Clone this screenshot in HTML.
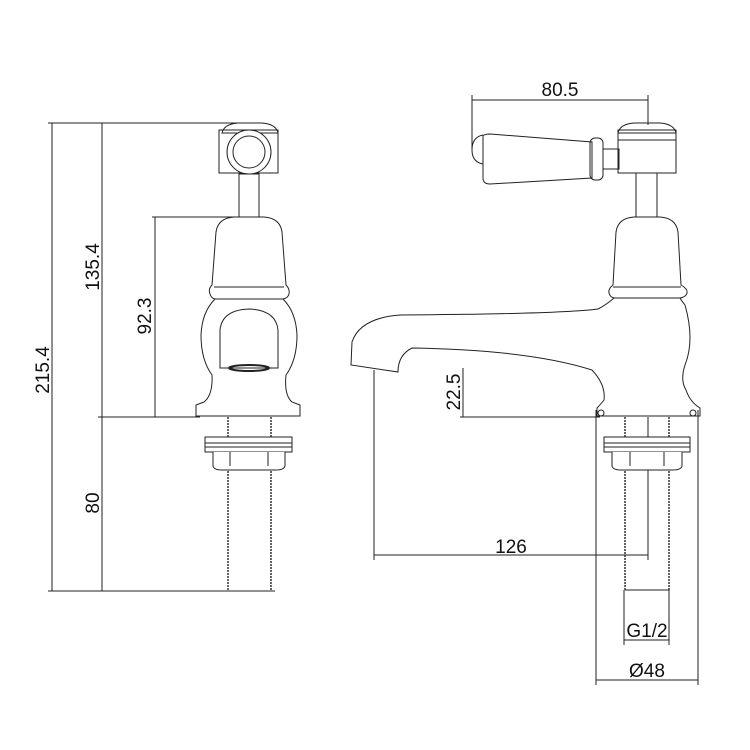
<!DOCTYPE html>
<html><head><style>body{margin:0;background:#fff}svg{display:block}text{font-family:"Liberation Sans",Arial,sans-serif;font-size:19px;fill:#111}</style></head>
<body>
<svg width="750" height="750" viewBox="0 0 750 750" xmlns="http://www.w3.org/2000/svg">
<g fill="none" stroke="#222" stroke-width="1">
<line x1="48" y1="123" x2="240" y2="123"/>
<line x1="152" y1="217" x2="236" y2="217"/>
<line x1="98" y1="417" x2="200" y2="417"/>
<line x1="48" y1="591" x2="275" y2="591"/>
<line x1="52" y1="123" x2="52" y2="591"/>
<line x1="102" y1="123" x2="102" y2="591"/>
<line x1="155" y1="217" x2="155" y2="417"/>
<path d="M222 133 Q224 124 238 123 L262 123 Q276 124 278 133 Z"/>
<rect x="219" y="130" width="59" height="43"/>
<circle cx="249" cy="152" r="22" fill="#fff"/>
<circle cx="249" cy="152" r="16"/>
<rect x="239" y="174" width="20" height="43" fill="#fff"/>
<path d="M234 217 Q218 218 216 232 L212 285 Q208 289 210 294 Q211 298 215 299 Q202 312 201 335 Q201 360 212 375 Q213 395 204 402 L196 405 L196 416 L300 416 L300 405 L292 402 Q284 395 286 375 Q297 360 297 335 Q296 312 283 299 Q288 298 289 294 Q290 289 286 285 L282 232 Q280 218 264 217 Z"/>
<line x1="214" y1="287" x2="284" y2="287"/>
<line x1="215" y1="299" x2="283" y2="299"/>
<path d="M220 368 L220 330 Q222 310 249 309 Q276 310 278 330 L278 368 Z"/>
<ellipse cx="249" cy="368" rx="20" ry="3" stroke-width="2"/>
<line x1="228" y1="417" x2="228" y2="591" stroke-width="1.4" stroke-dasharray="2 1"/>
<line x1="271" y1="417" x2="271" y2="591" stroke-width="1.4" stroke-dasharray="2 1"/>
<rect x="205" y="437" width="87" height="15" fill="#fff"/>
<line x1="205" y1="443" x2="292" y2="443"/>
<line x1="205" y1="447" x2="292" y2="447"/>
<path d="M213 452 L213 466 Q214 470 222 470 L276 470 Q284 470 285 466 L285 452" fill="#fff"/>
<path d="M230 452 L230 466 M268 452 L268 466"/>
<line x1="472" y1="95" x2="472" y2="150"/>
<line x1="648" y1="95" x2="648" y2="125"/>
<line x1="472" y1="100" x2="648" y2="100"/>
<line x1="463" y1="368" x2="463" y2="417"/>
<line x1="460" y1="417" x2="600" y2="417"/>
<line x1="374" y1="370" x2="374" y2="560"/>
<line x1="648" y1="417" x2="648" y2="560"/>
<line x1="374" y1="555" x2="648" y2="555"/>
<line x1="624" y1="590" x2="624" y2="645"/>
<line x1="669" y1="590" x2="669" y2="645"/>
<line x1="624" y1="640" x2="669" y2="640"/>
<line x1="596" y1="410" x2="596" y2="685"/>
<line x1="698" y1="410" x2="698" y2="685"/>
<line x1="596" y1="680" x2="698" y2="680"/>
<path d="M483 135 Q472 137 472 150 Q472 162 483 164"/>
<path d="M483 136 Q484 134 490 134 L592 142 L592 178 L490 184 Q483 184 483 178 Z"/>
<rect x="590" y="138" width="13" height="42" rx="5"/>
<rect x="603" y="149" width="16" height="20"/>
<path d="M618 133 Q620 124 634 123 L660 123 Q674 124 676 133 Z"/>
<rect x="618" y="130" width="58" height="43"/>
<line x1="618" y1="140" x2="676" y2="140"/>
<rect x="636" y="173" width="21" height="44"/>
<path d="M634 217 Q618 218 616 232 L613 285 Q608 289 609 293 Q610 297 614 298 Q606 305 598 309 Q560 314 400 315 Q360 318 352 342 L351 365 L398 372 Q398 355 412 348 Q530 350 592 370 Q606 385 604 400 Q600 405 597 408 L597 416 L700 416 L700 408 Q690 402 686 390 Q680 380 685 365 Q695 340 685 305 Q681 300 680 298 Q686 297 687 293 Q688 289 681 285 L678 232 Q676 218 660 217 Z"/>
<line x1="613" y1="287" x2="681" y2="287"/>
<line x1="614" y1="298" x2="680" y2="298"/>
<circle cx="601" cy="413" r="3"/>
<circle cx="693" cy="413" r="3"/>
<line x1="625" y1="417" x2="625" y2="590" stroke-width="1.4" stroke-dasharray="2 1"/>
<line x1="669" y1="417" x2="669" y2="590" stroke-width="1.4" stroke-dasharray="2 1"/>
<line x1="625" y1="590" x2="669" y2="590"/>
<rect x="604" y="437" width="86" height="15" fill="#fff"/>
<line x1="604" y1="443" x2="690" y2="443"/>
<line x1="604" y1="447" x2="690" y2="447"/>
<path d="M612 452 L612 466 Q613 470 621 470 L673 470 Q681 470 682 466 L682 452" fill="#fff"/>
<path d="M630 452 L630 466 M664 452 L664 466"/>
</g>
<text transform="translate(49,370) rotate(-90)" text-anchor="middle">215.4</text>
<text transform="translate(99,267) rotate(-90)" text-anchor="middle">135.4</text>
<text transform="translate(151,316) rotate(-90)" text-anchor="middle">92.3</text>
<text transform="translate(99,503) rotate(-90)" text-anchor="middle">80</text>
<text transform="translate(460,392) rotate(-90)" text-anchor="middle">22.5</text>
<text x="560" y="96" text-anchor="middle">80.5</text>
<text x="511" y="553" text-anchor="middle">126</text>
<text x="647" y="637" text-anchor="middle">G1/2</text>
<text x="647" y="677" text-anchor="middle">Ø48</text>
</svg>
</body></html>
